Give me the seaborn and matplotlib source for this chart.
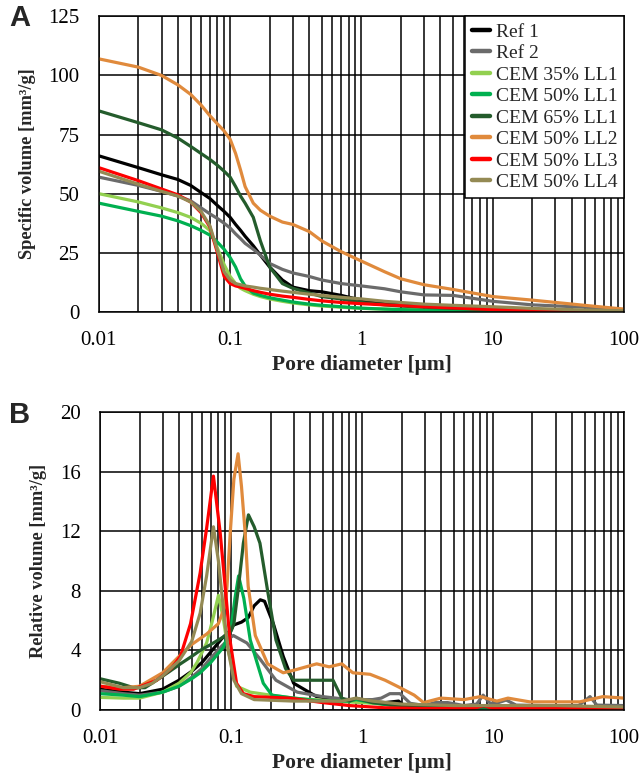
import numpy as np
import pandas as pd
import seaborn as sns
import matplotlib.pyplot as plt
import matplotlib.ticker as mtick

# --- dados ---
series = ["Ref 1", "Ref 2", "CEM 35% LL1", "CEM 50% LL1", "CEM 65% LL1",
          "CEM 50% LL2", "CEM 50% LL3", "CEM 50% LL4"]
cores = ["#000000", "#6b6b6b", "#92d050", "#00b050", "#245c2c",
         "#e08a3c", "#ff0000", "#948a54"]

# painel A: volume acumulado, grade comum de diametros
xa = [0.01, 0.02, 0.03, 0.04, 0.05, 0.06, 0.07, 0.08, 0.09, 0.1, 0.11, 0.12, 0.13,
      0.15, 0.17, 0.2, 0.25, 0.3, 0.4, 0.5, 0.7, 1, 1.5, 2, 3, 5, 10, 20, 50, 100]
a_ref1 = [66, 61, 58, 56, 53.5, 50.5, 48, 45, 42.5, 40, 37, 34.5, 32, 28, 24, 19, 13.5,
          10.5, 9, 8.5, 7, 5, 3.5, 3, 2.5, 2, 1.5, 1, 0.5, 0.3]
a_ref2 = [57, 53.5, 51, 49, 47, 44, 41.5, 39.5, 37.5, 35.5, 33, 31, 29, 26.5, 24, 20.5, 18,
          16.5, 15, 13.5, 12, 11, 9.8, 8.5, 7.2, 7, 4.5, 3, 2, 1]
a_35ll1 = [50, 46.5, 44, 42, 40, 37.5, 34.5, 27, 20, 15, 12, 10, 9, 7.5, 6.5, 5.5, 4.5,
           3.8, 3, 2.5, 2, 1.5, 1.2, 1, 0.8, 0.6, 0.4, 0.3, 0.2, 0.1]
a_50ll1 = [46, 42.5, 40.5, 38.5, 36.5, 34.5, 32.5, 29.5, 26.5, 23, 19, 14, 11, 8, 7, 6, 5,
           4.2, 3.3, 2.8, 2.2, 1.6, 1.2, 1, 0.7, 0.5, 0.3, 0.2, 0.1, 0]
a_65ll1 = [85, 80, 77, 73.5, 70, 67, 64.5, 62, 59.5, 57, 53, 49, 46, 40, 30, 19, 12,
           10, 8, 6.5, 5.5, 4, 3, 2.5, 2, 1.5, 1, 0.7, 0.4, 0.3]
a_50ll2 = [107, 103.5, 100, 96, 92, 87.5, 83, 79.5, 76.5, 73, 67, 60, 53, 46, 43, 40.5, 38,
           37, 34, 30, 25.5, 21.5, 17, 14, 11.5, 9.5, 6.5, 5, 2.8, 1.2]
a_50ll3 = [61, 55.5, 52, 49.5, 46.5, 42, 36, 25, 15, 12, 11, 10.5, 10, 9, 8.3, 7.5, 6.7,
           6.2, 5.3, 4.7, 4, 3.5, 3, 2.7, 2.2, 1.7, 1, 0.5, 0.2, 0.1]
a_50ll4 = [59.5, 54, 51, 49, 46.5, 42.5, 36.5, 26, 17, 13.5, 12, 11.5, 11, 10.5, 10, 9.5, 8.8,
           8.3, 7.5, 7, 6.2, 5.5, 4.5, 4, 3.3, 2.8, 2.2, 1.5, 0.8, 0.5]

# painel B: volume relativo (cada serie com seus pontos)
b_ref1_x = [0.01, 0.015, 0.02, 0.03, 0.04, 0.05, 0.06, 0.07, 0.085, 0.1, 0.104, 0.12, 0.135,
            0.15, 0.167, 0.18, 0.21, 0.25, 0.3, 0.45, 0.7, 1, 1.5, 1.9, 2.2, 2.5, 10, 100]
b_ref1_y = [1.4, 1.2, 1.1, 1.4, 2.0, 2.6, 3.2, 3.9, 4.8, 5.4, 5.7, 5.9, 6.2,
            7.0, 7.4, 7.3, 5.8, 3.6, 1.8, 0.9, 0.7, 0.6, 0.5, 0.6, 0.15, 0.1, 0.1, 0.1]
b_ref2_x = [0.01, 0.015, 0.02, 0.03, 0.04, 0.05, 0.06, 0.07, 0.085, 0.1, 0.104, 0.132, 0.167,
            0.22, 0.32, 0.5, 0.8, 1.2, 1.4, 1.63, 1.95, 2.33, 3, 3.6, 4.5, 6, 7.5, 8.4, 9.5,
            11, 12.6, 15, 25, 45, 55, 62, 100]
b_ref2_y = [1.3, 1.1, 1.0, 1.2, 1.6, 2.2, 2.8, 3.5, 4.3, 4.9, 5.0, 4.5, 3.4,
            2.0, 1.2, 0.9, 0.7, 0.7, 0.8, 1.1, 1.1, 0.45, 0.3, 0.5, 0.5, 0.3, 0.4, 1.0, 0.45,
            0.5, 0.67, 0.33, 0.3, 0.3, 0.9, 0.33, 0.3]
b_35ll1_x = [0.01, 0.015, 0.02, 0.03, 0.04, 0.049, 0.055, 0.065, 0.072, 0.08, 0.087, 0.095,
             0.11, 0.14, 0.2, 0.3, 0.6, 1, 2, 10, 100]
b_35ll1_y = [0.85, 0.8, 0.8, 1.2, 1.8, 2.5, 3.2, 4.5, 6, 7.7, 6.2, 4.0,
             1.6, 1.2, 1.0, 0.8, 0.6, 0.5, 0.3, 0.2, 0.1]
b_50ll1_x = [0.01, 0.015, 0.02, 0.03, 0.04, 0.05, 0.058, 0.07, 0.087, 0.1, 0.107, 0.114, 0.125,
             0.14, 0.16, 0.176, 0.205, 0.3, 0.5, 0.8, 0.9, 1.2, 2, 10, 100]
b_50ll1_y = [1.1, 1.0, 0.9, 1.2, 1.6, 2.1, 2.5, 3.2, 4.2, 5.5, 7.5, 9.0, 7.5,
             4.7, 3.0, 1.8, 1.0, 0.8, 0.6, 0.6, 0.7, 0.5, 0.2, 0.1, 0.1]
b_65ll1_x = [0.01, 0.014, 0.018, 0.022, 0.027, 0.034, 0.041, 0.05, 0.058, 0.07, 0.087, 0.1,
             0.105, 0.114, 0.124, 0.1356, 0.15, 0.166, 0.19, 0.22, 0.26, 0.3, 0.45, 0.6, 0.7,
             0.8, 0.9, 1.2, 2, 5, 10, 100]
b_65ll1_y = [2.1, 1.8, 1.5, 1.5, 2.0, 2.6, 3.1, 3.6, 4.0, 4.4, 4.9, 5.3,
             5.8, 8.3, 11.2, 13.1, 12.3, 11.2, 8, 4.7, 2.8, 2.0, 2.0, 2.0, 0.8,
             0.6, 0.8, 0.5, 0.3, 0.2, 0.2, 0.1]
b_50ll2_x = [0.01, 0.015, 0.02, 0.03, 0.04, 0.05, 0.065, 0.08, 0.09, 0.093, 0.0985, 0.105,
             0.113, 0.12, 0.128, 0.135, 0.153, 0.19, 0.25, 0.31, 0.45, 0.56, 0.7, 0.85, 1.15,
             1.5, 1.95, 2.5, 2.95, 4, 6, 8, 10.7, 13, 19, 30, 46, 69, 100]
b_50ll2_y = [1.6, 1.5, 1.6, 2.5, 3.6, 4.4, 5.1, 5.8, 7, 8.3, 11.9, 15.5,
             17.2, 15, 11.9, 8.3, 5.0, 3.1, 2.5, 2.7, 3.1, 2.9, 3.1, 2.5, 2.4,
             2.0, 1.5, 1.0, 0.5, 0.8, 0.7, 0.9, 0.6, 0.8, 0.55, 0.55, 0.55, 0.9, 0.8]
b_50ll3_x = [0.01, 0.014, 0.018, 0.027, 0.035, 0.041, 0.049, 0.058, 0.065, 0.0733, 0.0825,
             0.09, 0.098, 0.11, 0.124, 0.15, 0.28, 0.5, 0.8, 1.5, 3, 7, 8.5, 10, 30, 100]
b_50ll3_y = [1.6, 1.4, 1.4, 2.0, 2.8, 3.6, 5.8, 9.2, 12.2, 15.7, 11.9,
             8.3, 4.7, 1.8, 1.1, 0.9, 0.8, 0.5, 0.3, 0.15, 0.1, 0.1, 0.3, 0.1, 0.1, 0.1]
b_50ll4_x = [0.01, 0.015, 0.02, 0.025, 0.03, 0.04, 0.05, 0.058, 0.065, 0.0733, 0.08, 0.087,
             0.095, 0.105, 0.12, 0.15, 0.3, 0.7, 0.9, 1.2, 2, 5, 10, 30, 100]
b_50ll4_y = [1.9, 1.5, 1.5, 1.8, 2.3, 3.3, 4.6, 6.5, 9, 12.3, 10, 6.9,
             4, 2.0, 1.1, 0.7, 0.6, 0.6, 0.8, 0.6, 0.4, 0.3, 0.3, 0.3, 0.2]


def montar_a():
    ys = [a_ref1, a_ref2, a_35ll1, a_50ll1, a_65ll1, a_50ll2, a_50ll3, a_50ll4]
    partes = [pd.DataFrame({"x": xa, "y": y, "Amostra": s}) for s, y in zip(series, ys)]
    return pd.concat(partes, ignore_index=True)


def montar_b():
    xs = [b_ref1_x, b_ref2_x, b_35ll1_x, b_50ll1_x, b_65ll1_x, b_50ll2_x, b_50ll3_x, b_50ll4_x]
    ys = [b_ref1_y, b_ref2_y, b_35ll1_y, b_50ll1_y, b_65ll1_y, b_50ll2_y, b_50ll3_y, b_50ll4_y]
    partes = [pd.DataFrame({"x": x, "y": y, "Amostra": s}) for s, x, y in zip(series, xs, ys)]
    return pd.concat(partes, ignore_index=True)


def formatar_eixo(ax, ymax, ystep, ylabel):
    ax.set_xscale("log")
    ax.set_xlim(0.01, 100)
    ax.set_ylim(0, ymax)
    ax.set_yticks(np.arange(0, ymax + 0.1, ystep))
    ax.xaxis.set_major_locator(mtick.LogLocator(base=10, numticks=10))
    ax.xaxis.set_minor_locator(mtick.LogLocator(base=10, subs=np.arange(2, 10), numticks=10))
    ax.xaxis.set_major_formatter(mtick.FuncFormatter(lambda v, _: f"{v:g}"))
    ax.xaxis.set_minor_formatter(mtick.NullFormatter())
    ax.grid(which="both", axis="x", color="black", lw=1.1)
    ax.grid(which="major", axis="y", color="black", lw=1.1)
    ax.set_axisbelow(True)
    for sp in ax.spines.values():
        sp.set_color("black")
        sp.set_linewidth(1.1)
        sp.set_visible(True)
    ax.tick_params(which="major", direction="out", length=8, width=1.1, pad=6,
                   labelsize=15, colors="black")
    ax.tick_params(which="minor", length=0)
    ax.set_xlabel("Pore diameter [μm]", fontsize=15.5, fontweight="bold", labelpad=3)
    ax.set_ylabel(ylabel, fontsize=13.2, fontweight="bold", labelpad=9)


sns.set_style("white")
plt.rcParams["font.family"] = ["Liberation Serif", "DejaVu Serif"]

fig = plt.figure(figsize=(6.42, 7.76), dpi=100)
ax_a = fig.add_axes([0.154, 0.598, 0.818, 0.381])
ax_b = fig.add_axes([0.156, 0.085, 0.816, 0.384])
paleta = dict(zip(series, cores))

sns.lineplot(data=montar_a(), x="x", y="y", hue="Amostra", hue_order=series,
             palette=paleta, estimator=None, sort=False, lw=2.3, ax=ax_a)
sns.lineplot(data=montar_b(), x="x", y="y", hue="Amostra", hue_order=series,
             palette=paleta, estimator=None, sort=False, lw=2.3, ax=ax_b, legend=False)

formatar_eixo(ax_a, 125, 25, "Specific volume [mm³/g]")
formatar_eixo(ax_b, 20, 4, "Relative volume [mm³/g]")

leg = ax_a.legend(loc="upper right", bbox_to_anchor=(1, 1), borderaxespad=0,
                  fontsize=14, handlelength=0.9, handletextpad=0.3, labelspacing=0.2,
                  borderpad=0.35, fancybox=False, framealpha=1, edgecolor="black")
leg.get_frame().set_linewidth(1.1)
for ln in leg.get_lines():
    ln.set_linewidth(3.2)

fig.text(0.014, 0.966, "A", fontsize=21, fontweight="bold", family="Liberation Sans")
fig.text(0.014, 0.455, "B", fontsize=21, fontweight="bold", family="Liberation Sans")

fig.savefig("out.png", dpi=100)
